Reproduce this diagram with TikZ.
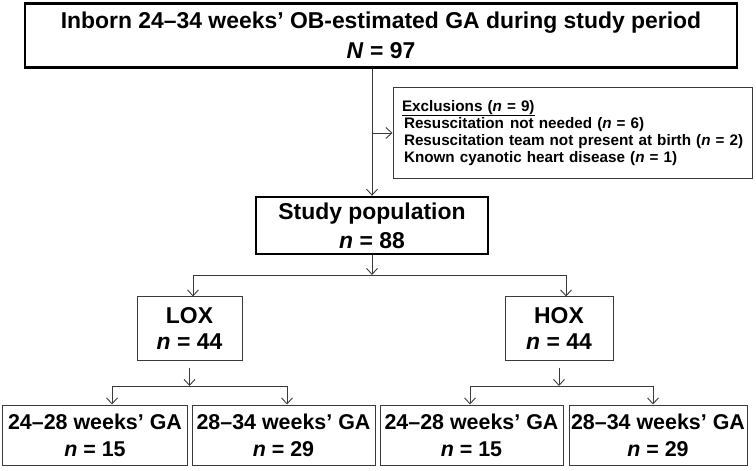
\documentclass[tikz,border=0pt]{standalone}
\usepackage{fontspec}
\setmainfont{Liberation Sans}
\usetikzlibrary{arrows.meta,positioning,calc}
\definecolor{Ink}{HTML}{000000}
\definecolor{Edge}{HTML}{3A3A3A}
\tikzset{box/.style={draw=Edge,line width=1bp,minimum width=#1,inner sep=0pt,align=center,font=\fontsize{21.5}{27}\selectfont\bfseries,text=Ink},heavy/.style={box=#1,draw=Ink,line width=2.4bp,font=\fontsize{23}{29}\selectfont\bfseries},big/.style={font=\fontsize{23}{26}\selectfont\bfseries},flow/.style={-{Straight Barb[length=6bp,width=11bp]},line width=.9bp,draw=Edge},link/.style={line width=.9bp,draw=Edge}}
\begin{document}
\begin{tikzpicture}[x=1bp,y=-1bp]
\useasboundingbox (0,0) rectangle (756,471);
\node[heavy=712bp,minimum height=64bp,font=\fontsize{23}{30}\selectfont\bfseries] (pop) at (381,35.5) {Inborn 24--34 weeks' OB-estimated GA during study period\\\textit{N} = 97};
\node[box=359bp,minimum height=91bp,text width=347bp,inner xsep=6bp,align=left,font=\fontsize{15.3}{16.8}\selectfont\bfseries] (excl) at (572.5,133) {\hspace*{3bp}\underline{\raisebox{0pt}[\height][1.6bp]{Exclusions (\textit{n} = 9)}}\\\hspace*{5bp}Resuscitation\hspace{.4em}not needed (\textit{n}~=~6)\\\hspace*{5bp}Resuscitation team not present at birth (\textit{n}~=~2)\\\hspace*{5bp}Known cyanotic heart disease (\textit{n}~=~1)};
\node[heavy=232bp,minimum height=57bp] (study) at (372,225.5) {Study population\\\textit{n} = 88};
\node[box=105bp,minimum height=63bp,big] (lox) at (189.5,328.5) {LOX\\\textit{n} = 44};
\node[box=108bp,minimum height=63bp,big] (hox) at (559,328.5) {HOX\\\textit{n} = 44};
\node[box=184bp,minimum height=60bp] (b1) at (95,435) {24--28 weeks' GA\\\textit{n} = 15};
\node[box=183bp,minimum height=60bp] (b2) at (283.5,435) {28--34 weeks' GA\\\textit{n} = 29};
\node[box=183bp,minimum height=60bp] (b3) at (471.5,435) {24--28 weeks' GA\\\textit{n} = 15};
\node[box=178bp,minimum height=60bp] (b4) at (658,435) {28--34 weeks' GA\\\textit{n} = 29};
\coordinate (j0) at (372,275);
\coordinate (ja) at (193,275);
\coordinate (jb) at (566,275);
\coordinate (l1) at (112,386);
\coordinate (l2) at (287,386);
\coordinate (h1) at (470,386);
\coordinate (h2) at (653,386);
\draw[flow] (study.north |- pop.south) -- (study.north);
\draw[flow] (study.north |- excl.west) -- (excl.west);
\draw[flow] (study.south) -- (j0);
\draw[link] (ja) -- (jb);
\draw[flow] (ja) -- (ja |- lox.north);
\draw[flow] (jb) -- (jb |- hox.north);
\draw[flow,shorten <=7bp] (lox.south) -- (lox.south |- l1);
\draw[link] (l1) -- (l2);
\foreach \j/\b in {l1/b1,l2/b2,h1/b3,h2/b4}{\draw[flow] (\j) -- (\j |- \b.north);}
\draw[flow,shorten <=7bp] (hox.south) -- (hox.south |- h1);
\draw[link] (h1) -- (h2);
\end{tikzpicture}
\end{document}
